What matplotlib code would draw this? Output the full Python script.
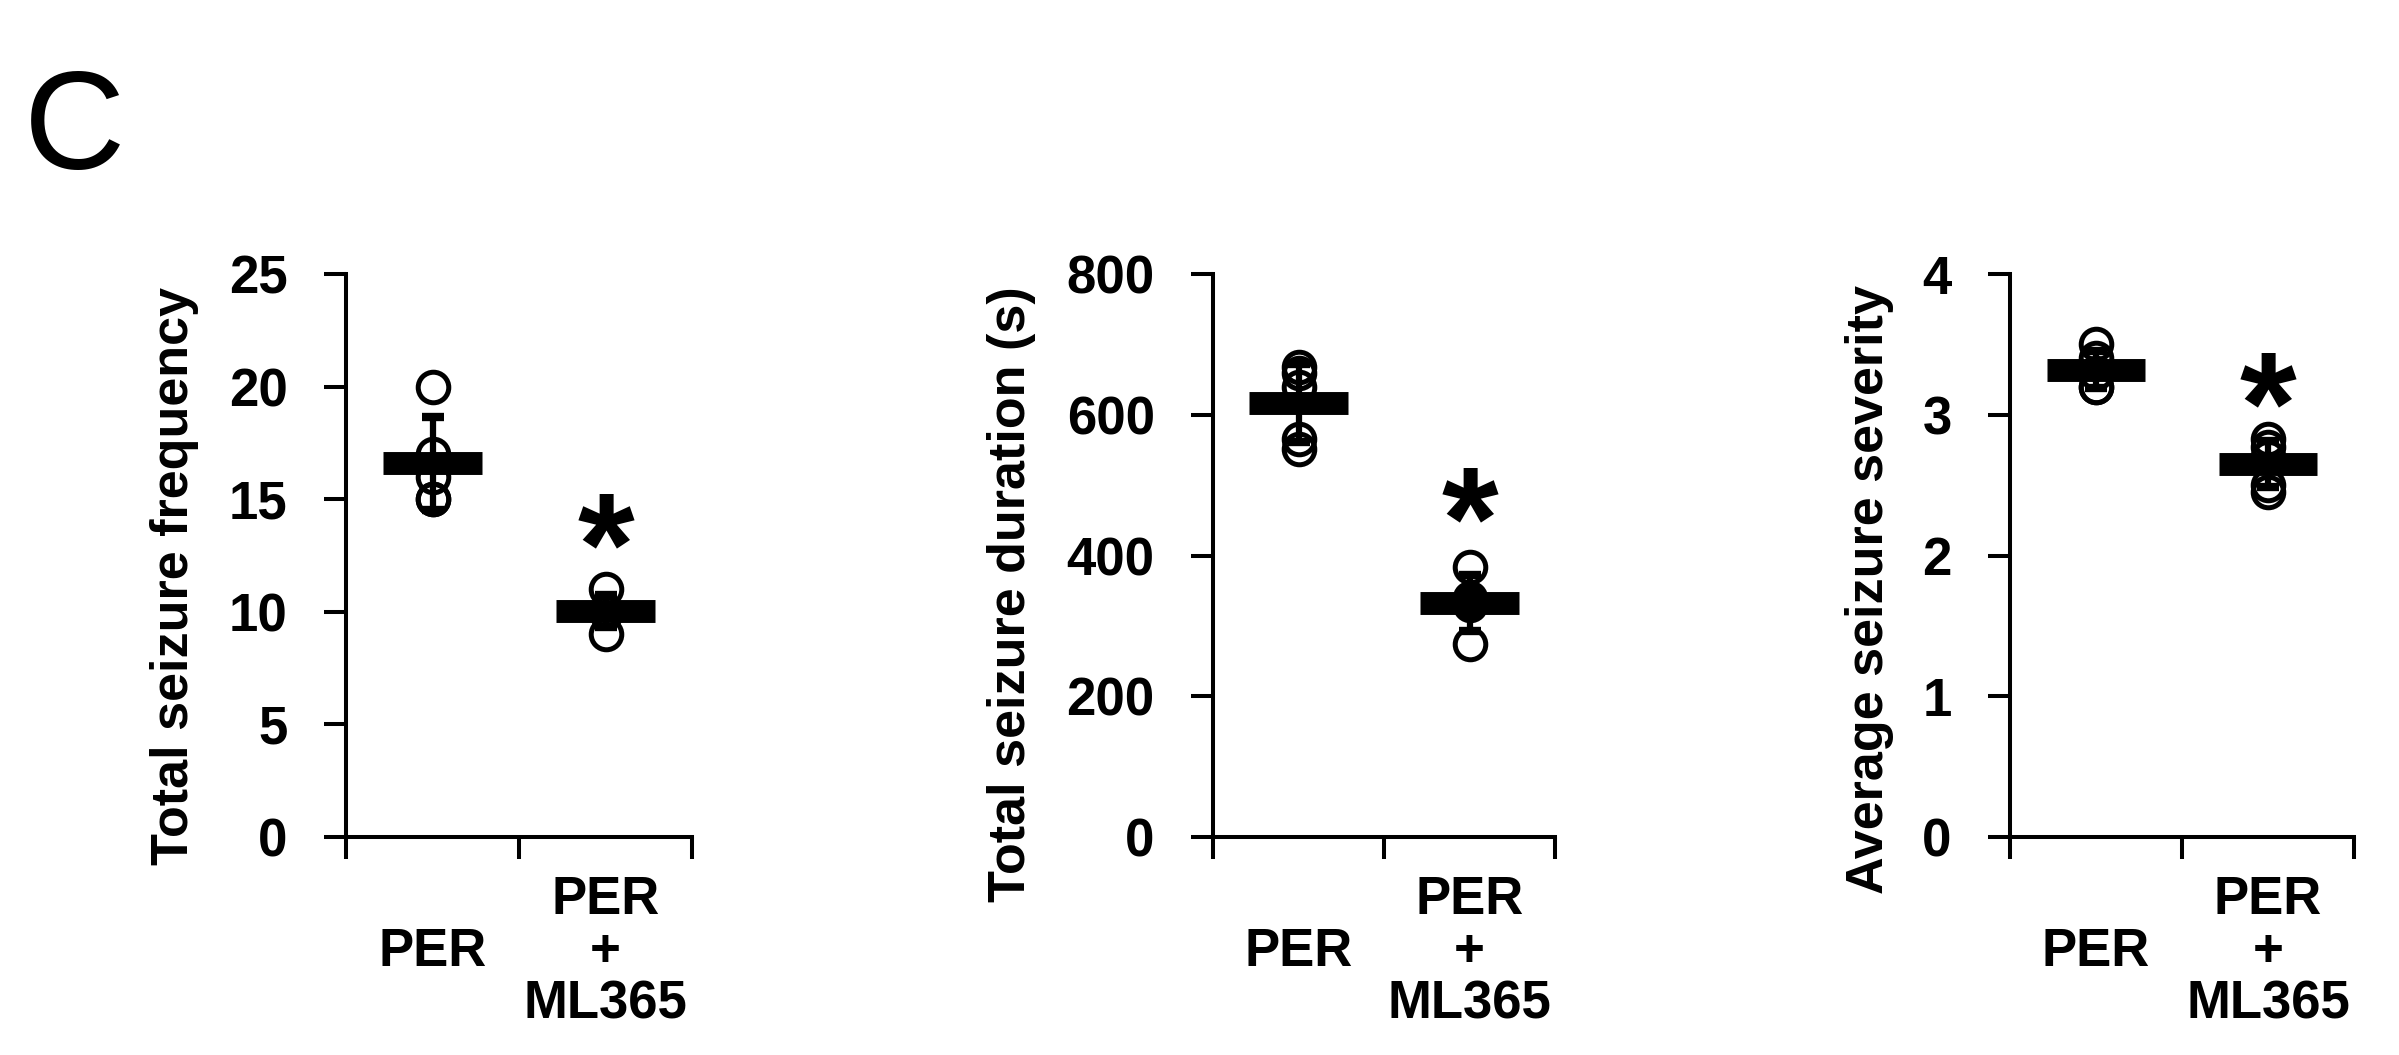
import matplotlib

matplotlib.use("Agg")
import matplotlib.pyplot as plt

GROUPS = ["PER", "PER\n+\nML365"]

# individual animals
FREQ_PER = [20, 17, 16, 15, 15]
FREQ_ML365 = [11, 10, 10, 10, 9]
FREQ_MEAN = [16.6, 10.05]
FREQ_SD = [2.07, 0.71]

DUR_PER = [668, 659, 640, 565, 551]
DUR_ML365 = [383, 340, 335, 330, 274]
DUR_MEAN = [616.5, 333]
DUR_SD = [55, 40]

SEV_PER = [3.5, 3.4, 3.3, 3.2, 3.2]
SEV_ML365 = [2.83, 2.77, 2.7, 2.5, 2.45]
SEV_MEAN = [3.32, 2.65]
SEV_SD = [0.13, 0.16]

YLABELS = ["Total seizure frequency", "Total seizure duration (s)", "Average seizure severity"]
YTICKS = [[0, 5, 10, 15, 20, 25], [0, 200, 400, 600, 800], [0, 1, 2, 3, 4]]
STAR_Y = [13.9, 482, 3.23]

W, H = 2399, 1055
# axes boxes in pixels: left, right (top 274, bottom 837 for all)
AX_PX = [(346, 692), (1213, 1555), (2010, 2354)]
YLABEL_PX = [(188, 576), (1025, 594), (1883, 590)]

plt.rcParams["font.family"] = ["Liberation Sans", "DejaVu Sans"]
plt.rcParams["font.weight"] = "bold"

fig = plt.figure(figsize=(W / 100, H / 100), dpi=100)

panels = [
    (FREQ_PER, FREQ_ML365, FREQ_MEAN, FREQ_SD),
    (DUR_PER, DUR_ML365, DUR_MEAN, DUR_SD),
    (SEV_PER, SEV_ML365, SEV_MEAN, SEV_SD),
]

for i, (per, ml, mean, sd) in enumerate(panels):
    left, right = AX_PX[i]
    ax = fig.add_axes([left / W, (H - 837) / H, (right - left) / W, (837 - 274) / H])
    xs = [0.5, 1.5]
    for x, vals in zip(xs, [per, ml]):
        ax.plot([x] * len(vals), vals, linestyle="none", marker="o", markersize=22,
                markerfacecolor="none", markeredgecolor="black", markeredgewidth=3.6, zorder=3)
    ax.errorbar(xs, mean, yerr=sd, fmt="none", ecolor="black", elinewidth=4.5,
                capsize=8, capthick=6, zorder=2)
    for x, m in zip(xs, mean):
        ax.plot([x - 0.2875, x + 0.2875], [m, m], color="black", linewidth=16.5,
                solid_capstyle="butt", zorder=4)
    ax.annotate("*", xy=(1.5, STAR_Y[i]), xytext=(0, -51), textcoords="offset points",
                ha="center", va="baseline", fontsize=105, fontweight="bold")

    ax.set_xlim(0, 2)
    ax.set_ylim(YTICKS[i][0], YTICKS[i][-1])
    ax.set_yticks(YTICKS[i])
    ax.set_xticks([0, 1, 2])
    ax.set_xticklabels([])
    ax.set_xticks(xs, minor=True)
    ax.set_xticklabels(GROUPS, minor=True)
    for sp in ["top", "right"]:
        ax.spines[sp].set_visible(False)
    for sp in ["left", "bottom"]:
        ax.spines[sp].set_linewidth(2.9)
    ax.tick_params(axis="both", which="major", length=16, width=2.9, labelsize=38, pad=26)
    ax.tick_params(axis="x", which="minor", length=0, labelsize=38, pad=83)
    for lbl in ax.get_xticklabels(minor=True):
        lbl.set_verticalalignment("center")
        lbl.set_linespacing(1.05)

    lx, ly = YLABEL_PX[i]
    ax.set_ylabel(YLABELS[i], fontsize=37.5, fontweight="bold")
    ax.yaxis.set_label_coords(lx / W, 1 - ly / H, transform=fig.transFigure)
    ax.yaxis.label.set_verticalalignment("baseline")
    ax.yaxis.label.set_rotation_mode("anchor")

fig.text(24 / W, 1 - 169 / H, "C", fontsize=101, fontweight="normal", va="baseline", ha="left")

fig.savefig("out.png", dpi=100, facecolor="white")
